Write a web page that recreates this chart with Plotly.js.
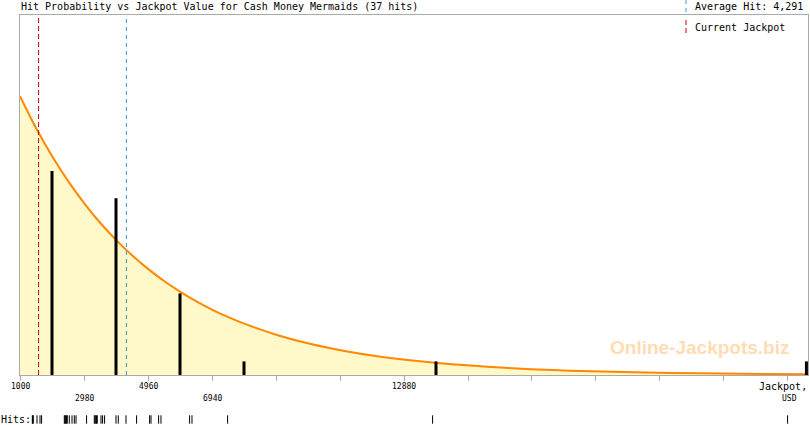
<!DOCTYPE html>
<html><head><meta charset="utf-8">
<script src="https://cdn.plot.ly/plotly-3.0.1.min.js"></script>
<style>html,body{margin:0;padding:0;background:#fff;overflow:hidden}#chart{width:810px;height:425px}</style>
</head><body><div id="chart"></div>
<script>
// ---- data ----
const chartTitle = "Hit Probability vs Jackpot Value for Cash Money Mermaids (37 hits)";
const binCenters = [1990, 3970, 5950, 7930, 13870, 25330];
const binCounts = [15, 13, 6, 1, 1, 1];
const curveX = [1000, 1500, 2000, 2500, 3000, 3500, 4000, 4500, 5000, 5500, 6000, 6500, 7000, 7500, 8000, 9000, 10000, 11000, 12000, 13000, 14000, 16000, 18000, 20000, 22000, 25379];
const curveY = [20.5, 18.14, 16.06, 14.22, 12.59, 11.14, 9.86, 8.73, 7.73, 6.84, 6.06, 5.36, 4.74, 4.2, 3.72, 2.91, 2.28, 1.79, 1.4, 1.1, 0.86, 0.53, 0.32, 0.2, 0.12, 0.05];
const hits = [1381, 1396, 1411, 1526, 1619, 1668, 2371, 2391, 2411, 2437, 2463, 2525, 2609, 2680, 2733, 3060, 3299, 3322, 3345, 3368, 3391, 3506, 3555, 3617, 3970, 4041, 4279, 4607, 5010, 5053, 5288, 5362, 6247, 6321, 7423, 13765, 24748];
const averageHit = 4291;
const averageHitLabel = "Average Hit: 4,291";
const currentJackpot = 1575;
const currentJackpotLabel = "Current Jackpot";
const tickValues = [1000, 2980, 4960, 6940, 8920, 10900, 12880, 14860, 16840, 18820, 20800, 22780, 24760];
const tickLabelsRow1 = ["1000", "4960", "12880"];
const tickLabelsRow2 = ["2980", "6940"];
const axisTitle1 = "Jackpot,";
const axisTitle2 = "USD";
const hitsLabel = "Hits:";
const watermark = "Online-Jackpots.biz";

// ---- layout constants ----
const W = 810, H = 425, ML = 20, MR = 2, MT = 15, MB = 0;
const PH = H - MT - MB;
const PW = W - ML - MR;
const plotBottomPx = 375;
const py = px => (H - MB - px) / PH;
const pxp = px => (px - ML) / PW;
const X_RANGE = [1000, 25379];
const Y_RANGE = [0, 26.47];
const MONO = "DejaVu Sans Mono, monospace";
const GRAY = "#aaaaaa";

const traces = [
  { type: 'scatter', x: curveX, y: curveY, mode: 'lines', fill: 'tozeroy',
    fillcolor: '#fff8c8', line: { color: '#ff8800', width: 2, shape: 'spline', smoothing: 0.8 },
    hoverinfo: 'skip', xaxis: 'x', yaxis: 'y' },
  { type: 'bar', x: binCenters, y: binCounts, width: 93,
    marker: { color: '#000000', line: { width: 0 } }, hoverinfo: 'skip',
    xaxis: 'x', yaxis: 'y3' },
  { type: 'scatter', x: hits, y: hits.map(() => 0.5), mode: 'markers',
    marker: { symbol: 'line-ns', size: 6, line: { color: '#000', width: 1 } },
    hoverinfo: 'skip', xaxis: 'x2', yaxis: 'y2', cliponaxis: false }
];

const annotations = [];
const ann = (o) => annotations.push(Object.assign({ showarrow: false, borderpad: 0 }, o));
ann({ text: chartTitle, xref: 'paper', yref: 'paper', x: pxp(20), y: py(7), xanchor: 'left', yanchor: 'middle', font: { family: MONO, size: 10, color: '#000' } });
ann({ text: averageHitLabel, xref: 'paper', yref: 'paper', x: pxp(694), y: py(7), xanchor: 'left', yanchor: 'middle', font: { family: MONO, size: 10, color: '#000' } });
ann({ text: currentJackpotLabel, xref: 'paper', yref: 'paper', x: pxp(694), y: py(27), xanchor: 'left', yanchor: 'middle', font: { family: MONO, size: 10, color: '#000' } });
const row1Vals = [1000, 4960, 12880], row2Vals = [2980, 6940];
tickLabelsRow1.forEach((t, i) => ann({ text: t, xref: 'x', yref: 'paper', x: row1Vals[i], y: py(386), xanchor: 'center', yanchor: 'middle', font: { family: MONO, size: 8, color: '#000' } }));
tickLabelsRow2.forEach((t, i) => ann({ text: t, xref: 'x', yref: 'paper', x: row2Vals[i], y: py(398), xanchor: 'center', yanchor: 'middle', font: { family: MONO, size: 8, color: '#000' } }));
ann({ text: axisTitle1, xref: 'paper', yref: 'paper', x: pxp(808), y: py(386), xanchor: 'right', yanchor: 'middle', font: { family: MONO, size: 10, color: '#000' } });
ann({ text: axisTitle2, xref: 'paper', yref: 'paper', x: pxp(798), y: py(398), xanchor: 'right', yanchor: 'middle', font: { family: MONO, size: 8, color: '#000' } });
ann({ text: hitsLabel, xref: 'paper', yref: 'paper', x: pxp(0), y: py(419), xanchor: 'left', yanchor: 'middle', font: { family: MONO, size: 10, color: '#000' } });
ann({ text: watermark, xref: 'paper', yref: 'paper', x: pxp(699), y: py(347), xanchor: 'center', yanchor: 'middle', font: { family: 'Liberation Sans, Arial, sans-serif', size: 19, color: '#ffdcb4', weight: 'bold' } });

const shapes = [
  { type: 'line', xref: 'x', yref: 'paper', x0: currentJackpot, x1: currentJackpot, y0: py(plotBottomPx), y1: 1, line: { color: '#cc0000', width: 1, dash: '5px,3px' } },
  { type: 'line', xref: 'x', yref: 'paper', x0: averageHit, x1: averageHit, y0: py(plotBottomPx), y1: 1, line: { color: '#3b95c8', width: 1, dash: '4px,4px' } },
  { type: 'line', xref: 'paper', yref: 'paper', x0: pxp(686), x1: pxp(686), y0: py(0), y1: py(12), line: { color: '#3b95c8', width: 1, dash: '4px,4px' } },
  { type: 'line', xref: 'paper', yref: 'paper', x0: pxp(686), x1: pxp(686), y0: py(20), y1: py(33), line: { color: '#cc0000', width: 1, dash: '5px,3px' } }
];

const layout = {
  width: W, height: H, margin: { l: ML, r: MR, t: MT, b: MB, pad: 0 },
  showlegend: false, paper_bgcolor: '#ffffff', plot_bgcolor: '#ffffff',
  barmode: 'overlay',
  xaxis: { range: X_RANGE, domain: [0, 1], anchor: 'y', showgrid: false, zeroline: false,
    showline: true, mirror: true, linecolor: GRAY, linewidth: 1,
    ticks: 'outside', ticklen: 5, tickwidth: 1, tickcolor: GRAY,
    tickmode: 'array', tickvals: tickValues, showticklabels: false, fixedrange: true },
  yaxis: { range: Y_RANGE, domain: [py(plotBottomPx), 1], anchor: 'x', showgrid: false, zeroline: false,
    showline: true, mirror: true, linecolor: GRAY, linewidth: 1, ticks: '', showticklabels: false, fixedrange: true },
  yaxis3: { range: Y_RANGE, overlaying: 'y', anchor: 'x', visible: false, fixedrange: true },
  xaxis2: { range: X_RANGE, domain: [0, 1], anchor: 'y2', visible: false, fixedrange: true },
  yaxis2: { range: [0, 1], domain: [0, 11 / PH], anchor: 'x2', visible: false, fixedrange: true },
  annotations: annotations, shapes: shapes
};

Plotly.newPlot('chart', traces, layout, { displayModeBar: false, staticPlot: true });
</script></body></html>
